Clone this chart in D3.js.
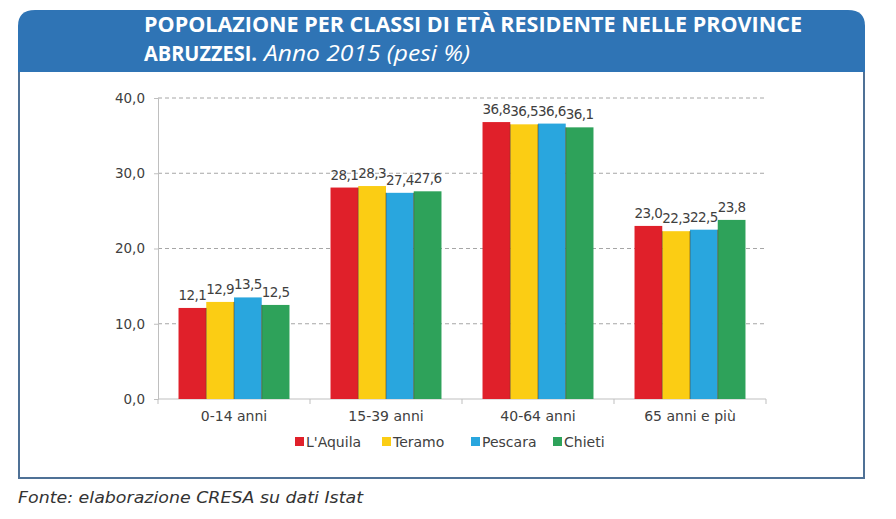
<!DOCTYPE html>
<html>
<head>
<meta charset="utf-8">
<script src="https://cdn.jsdelivr.net/npm/d3@7"></script>
<style>
  html, body { margin: 0; padding: 0; background: #ffffff; }
  svg { display: block; }
</style>
</head>
<body>
<svg id="chart" width="896" height="519"></svg>
<script>
// ---- data ----
const categories = ["0-14 anni", "15-39 anni", "40-64 anni", "65 anni e più"];
const seriesNames = ["L'Aquila", "Teramo", "Pescara", "Chieti"];
const lAquila = [12.1, 28.1, 36.8, 23.0];
const teramo  = [12.9, 28.3, 36.5, 22.3];
const pescara = [13.5, 27.4, 36.6, 22.5];
const chieti  = [12.5, 27.6, 36.1, 23.8];
const yTicks = [0, 10, 20, 30, 40];
const titleLine1 = "POPOLAZIONE PER CLASSI DI ETÀ RESIDENTE NELLE PROVINCE";
const titleLine2Bold = "ABRUZZESI.";
const titleLine2Italic = "Anno 2015 (pesi %)";
const sourceText = "Fonte: elaborazione CRESA su dati Istat";

const seriesValues = [lAquila, teramo, pescara, chieti];
const colors = ["#e0202a", "#fbcd14", "#29a6de", "#2ea25a"];

const svg = d3.select("#chart");
const fmt = v => d3.format(".1f")(v).replace(".", ",");

// ---- frame ----
const boxL = 19, boxT = 10, boxR = 864, boxB = 478, headerB = 72, rad = 16;
svg.append("rect").attr("x", boxL).attr("y", boxT + 20).attr("width", boxR - boxL).attr("height", boxB - boxT - 20)
  .attr("fill", "#ffffff").attr("stroke", "#4f7196").attr("stroke-width", 2);
svg.append("path")
  .attr("d", `M${boxL - 1},${headerB} L${boxL - 1},${boxT + rad} Q${boxL - 1},${boxT} ${boxL + rad},${boxT} L${boxR - rad},${boxT} Q${boxR + 1},${boxT} ${boxR + 1},${boxT + rad} L${boxR + 1},${headerB} Z`)
  .attr("fill", "#2f74b5");

svg.append("text").attr("x", 144).attr("y", 32)
  .attr("font-family", "'Open Sans', sans-serif").attr("font-weight", 700).attr("font-size", 22)
  .attr("fill", "#ffffff").attr("textLength", 658).attr("lengthAdjust", "spacingAndGlyphs")
  .text(titleLine1);
svg.append("text").attr("x", 144).attr("y", 61)
  .attr("font-family", "'Open Sans', sans-serif").attr("font-weight", 700).attr("font-size", 22)
  .attr("fill", "#ffffff").attr("textLength", 113).attr("lengthAdjust", "spacingAndGlyphs")
  .text(titleLine2Bold);
svg.append("text").attr("x", 264).attr("y", 61)
  .attr("font-family", "'Open Sans', sans-serif").attr("font-style", "italic").attr("font-weight", 400).attr("font-size", 22)
  .attr("fill", "#ffffff").attr("textLength", 206).attr("lengthAdjust", "spacingAndGlyphs")
  .text(titleLine2Italic);

// ---- scales ----
const plotL = 158, plotR = 766, plotT = 98, plotB = 399;
const y = d3.scaleLinear().domain([0, 40]).range([plotB, plotT]);
const x0 = d3.scaleBand().domain(categories).range([plotL, plotR]).paddingInner(0.27).paddingOuter(0.135);
const x1 = d3.scaleBand().domain(seriesNames).range([0, x0.bandwidth()]).padding(0);

// gridlines
svg.append("g").selectAll("line").data(yTicks.filter(d => d > 0)).join("line")
  .attr("x1", plotL).attr("x2", plotR).attr("y1", d => y(d)).attr("y2", d => y(d))
  .attr("stroke", "#a6a6a6").attr("stroke-width", 1).attr("stroke-dasharray", "4,3");

// y axis
const yAxis = svg.append("g").attr("transform", `translate(${plotL},0)`)
  .call(d3.axisLeft(y).tickValues(yTicks).tickSize(4).tickPadding(9).tickFormat(fmt));
yAxis.select(".domain").attr("stroke", "#bfbfbf");
yAxis.selectAll(".tick line").attr("stroke", "#bfbfbf");
yAxis.selectAll(".tick text").attr("font-family", "'DejaVu Sans', sans-serif").attr("font-size", 13.5).attr("fill", "#404040");

// x axis
svg.append("line").attr("x1", plotL).attr("x2", plotR).attr("y1", plotB).attr("y2", plotB)
  .attr("stroke", "#bfbfbf").attr("stroke-width", 1);
const boundaries = [plotL].concat(categories.map(c => x0(c) + x0.bandwidth() + x0.step() * x0.paddingInner() / 2));
boundaries[boundaries.length - 1] = plotR;
svg.append("g").selectAll("line").data(boundaries).join("line")
  .attr("x1", d => d).attr("x2", d => d).attr("y1", plotB).attr("y2", plotB + 5)
  .attr("stroke", "#bfbfbf");
svg.append("g").selectAll("text").data(categories).join("text")
  .attr("x", d => x0(d) + x0.bandwidth() / 2).attr("y", 421)
  .attr("text-anchor", "middle").attr("font-family", "'DejaVu Sans', sans-serif").attr("font-size", 14)
  .attr("fill", "#404040").text(d => d);

// bars
const groups = svg.append("g").selectAll("g").data(categories).join("g")
  .attr("transform", d => `translate(${x0(d)},0)`);
groups.selectAll("rect").data((c, ci) => seriesNames.map((s, si) => ({ s, si, v: seriesValues[si][ci] })))
  .join("rect")
  .attr("x", d => x1(d.s)).attr("y", d => y(d.v))
  .attr("width", x1.bandwidth()).attr("height", d => plotB - y(d.v))
  .attr("fill", d => colors[d.si]);
groups.selectAll("line.sep").data((c, ci) => seriesNames.slice(1).map((s, si) => ({ s, v: Math.min(seriesValues[si][ci], seriesValues[si + 1][ci]) })))
  .join("line").attr("class", "sep")
  .attr("x1", d => x1(d.s)).attr("x2", d => x1(d.s))
  .attr("y1", d => y(d.v)).attr("y2", plotB)
  .attr("stroke", "#5a3a1a").attr("stroke-opacity", 0.55).attr("stroke-width", 1);
groups.selectAll("text").data((c, ci) => seriesNames.map((s, si) => ({ s, si, v: seriesValues[si][ci] })))
  .join("text")
  .attr("x", d => x1(d.s) + x1.bandwidth() / 2).attr("y", d => y(d.v) - 8)
  .attr("text-anchor", "middle").attr("font-family", "'DejaVu Sans', sans-serif").attr("font-size", 13.5)
  .attr("letter-spacing", -0.6)
  .attr("fill", "#404040").text(d => fmt(d.v));

// legend
const legendX = [295, 382, 471, 553];
const legend = svg.append("g").selectAll("g").data(seriesNames).join("g")
  .attr("transform", (d, i) => `translate(${legendX[i]},447)`);
legend.append("rect").attr("x", 0).attr("y", -10).attr("width", 9).attr("height", 9)
  .attr("fill", (d, i) => colors[i]);
legend.append("text").attr("x", 11).attr("y", 0)
  .attr("font-family", "'DejaVu Sans', sans-serif").attr("font-size", 14).attr("fill", "#404040")
  .text(d => d);

// source
svg.append("text").attr("x", 18).attr("y", 503)
  .attr("font-family", "'DejaVu Sans', sans-serif").attr("font-style", "italic").attr("font-size", 16.5)
  .attr("fill", "#333333").attr("textLength", 345).attr("lengthAdjust", "spacingAndGlyphs").text(sourceText);
</script>
</body>
</html>
